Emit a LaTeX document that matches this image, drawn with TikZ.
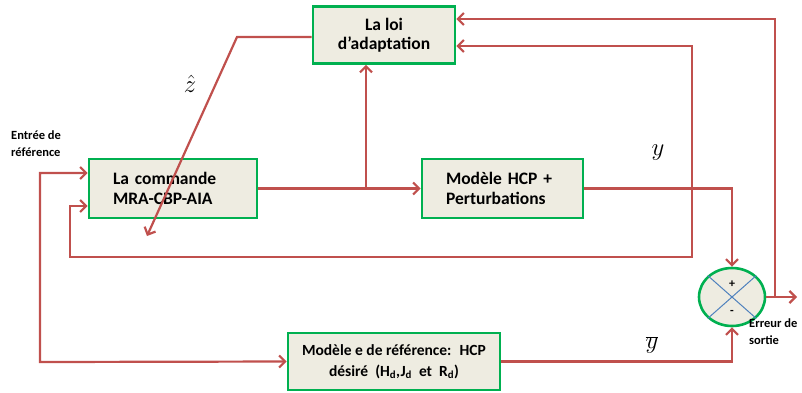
\documentclass[tikz,border=0pt]{standalone}
\usepackage{fontspec}
\setmainfont{Carlito}
\usetikzlibrary{arrows.meta,shapes.geometric}
\definecolor{lred}{RGB}{192,80,77}
\definecolor{bgreen}{RGB}{0,176,80}
\definecolor{bfill}{RGB}{238,236,225}
\definecolor{xblue}{RGB}{79,129,189}
\tikzset{
  blk/.style={draw=bgreen, line width=2.6pt, fill=bfill, minimum width=#1, inner sep=0pt, font=\bfseries\fontsize{17.5}{19.5}\selectfont},
  wire/.style={draw=lred, line width=2.2pt},
  arr/.style={wire, -{Straight Barb[length=6pt,width=12pt]}},
  darr/.style={wire, {Straight Barb[length=6pt,width=12pt]}-{Straight Barb[length=6pt,width=12pt]}},
  lbl/.style={font=\bfseries\fontsize{12.5}{16.5}\selectfont, align=left, inner sep=0pt},
  mlbl/.style={inner sep=0pt, font=\fontsize{25}{25}\selectfont},
}
\begin{document}
\begin{tikzpicture}[x=1pt,y=-1pt]
\useasboundingbox (0,0) rectangle (802,392);
% blocks
\node[blk=142pt, minimum height=57pt, align=center] (loi) at (384,35) {La loi\\d'adaptation};
\node[blk=168pt, minimum height=59pt, text width=120pt, align=left] (cmd) at (173,188.5) {La commande\\MRA-CBP-AIA};
\node[blk=161pt, minimum height=59pt, text width=113pt, align=left] (hcp) at (502.5,188.5) {Modèle HCP +\\Perturbations};
\node[blk=212pt, minimum height=57pt, align=center, font=\bfseries\fontsize{15.5}{21}\selectfont] (ref) at (394,361.5) {Modèle e de référence:~ HCP\\désiré~ (H\textsubscript{d},J\textsubscript{d}~ et~ R\textsubscript{d})};
\node[ellipse, draw=bgreen, line width=2.6pt, fill=bfill, minimum width=66pt, minimum height=58pt, inner sep=0pt] (sum) at (732,297) {};
\draw[xblue, line width=1pt] (sum.north west) -- (sum.south east);
\draw[xblue, line width=1pt] (sum.north east) -- (sum.south west);
\node[font=\bfseries\fontsize{12}{12}\selectfont, inner sep=0pt] (plus) at (732,284) {+};
\node[font=\bfseries\fontsize{12}{12}\selectfont, inner sep=0pt] (minus) at (732,312) {-};
% coordinates
\coordinate (inc) at (40,173);
\coordinate (inb) at (40,362);
\coordinate (j) at (366,188.5);
\coordinate (yr) at (692,46);
\coordinate (yb) at (692,257);
\coordinate (yl) at (70,257);
\coordinate (ylt) at (70,206);
\coordinate (eo) at (797,297);
\coordinate (ec) at (775,297);
\coordinate (et) at (775,19);
\coordinate (zc) at (237,37);
\coordinate (ze) at (147,236);
% connectors
\draw[darr] (inc -| cmd.west) -- (inc) -- (inb) -- (ref.west);
\draw[arr] (cmd.east) -- (hcp.west);
\draw[arr] (j) -- (j |- loi.south);
\draw[arr] (hcp.east) -| (sum.north);
\draw[arr] (ref.east) -| (sum.south);
\draw[arr] (sum.east) -- (eo);
\draw[arr] (ec) -- (et) -- (et -| loi.east);
\draw[darr] (yr -| loi.east) -- (yr) -- (yb) -- (yl) -- (ylt) -- (ylt -| cmd.west);
\draw[arr] (zc -| loi.west) -- (zc) -- (ze);
% labels
\node[lbl, anchor=north west] (entree) at (11,131) {Entrée de\\référence};
\node[lbl, anchor=north west] (erreur) at (749,319) {Erreur de\\sortie};
\node[mlbl] (ylab) at (658,153) {$y$};
\node[mlbl] (ybar) at (652,345) {$\overline{y}$};
\node[mlbl] (zhat) at (190,84) {$\hat{z}$};
\end{tikzpicture}
\end{document}
